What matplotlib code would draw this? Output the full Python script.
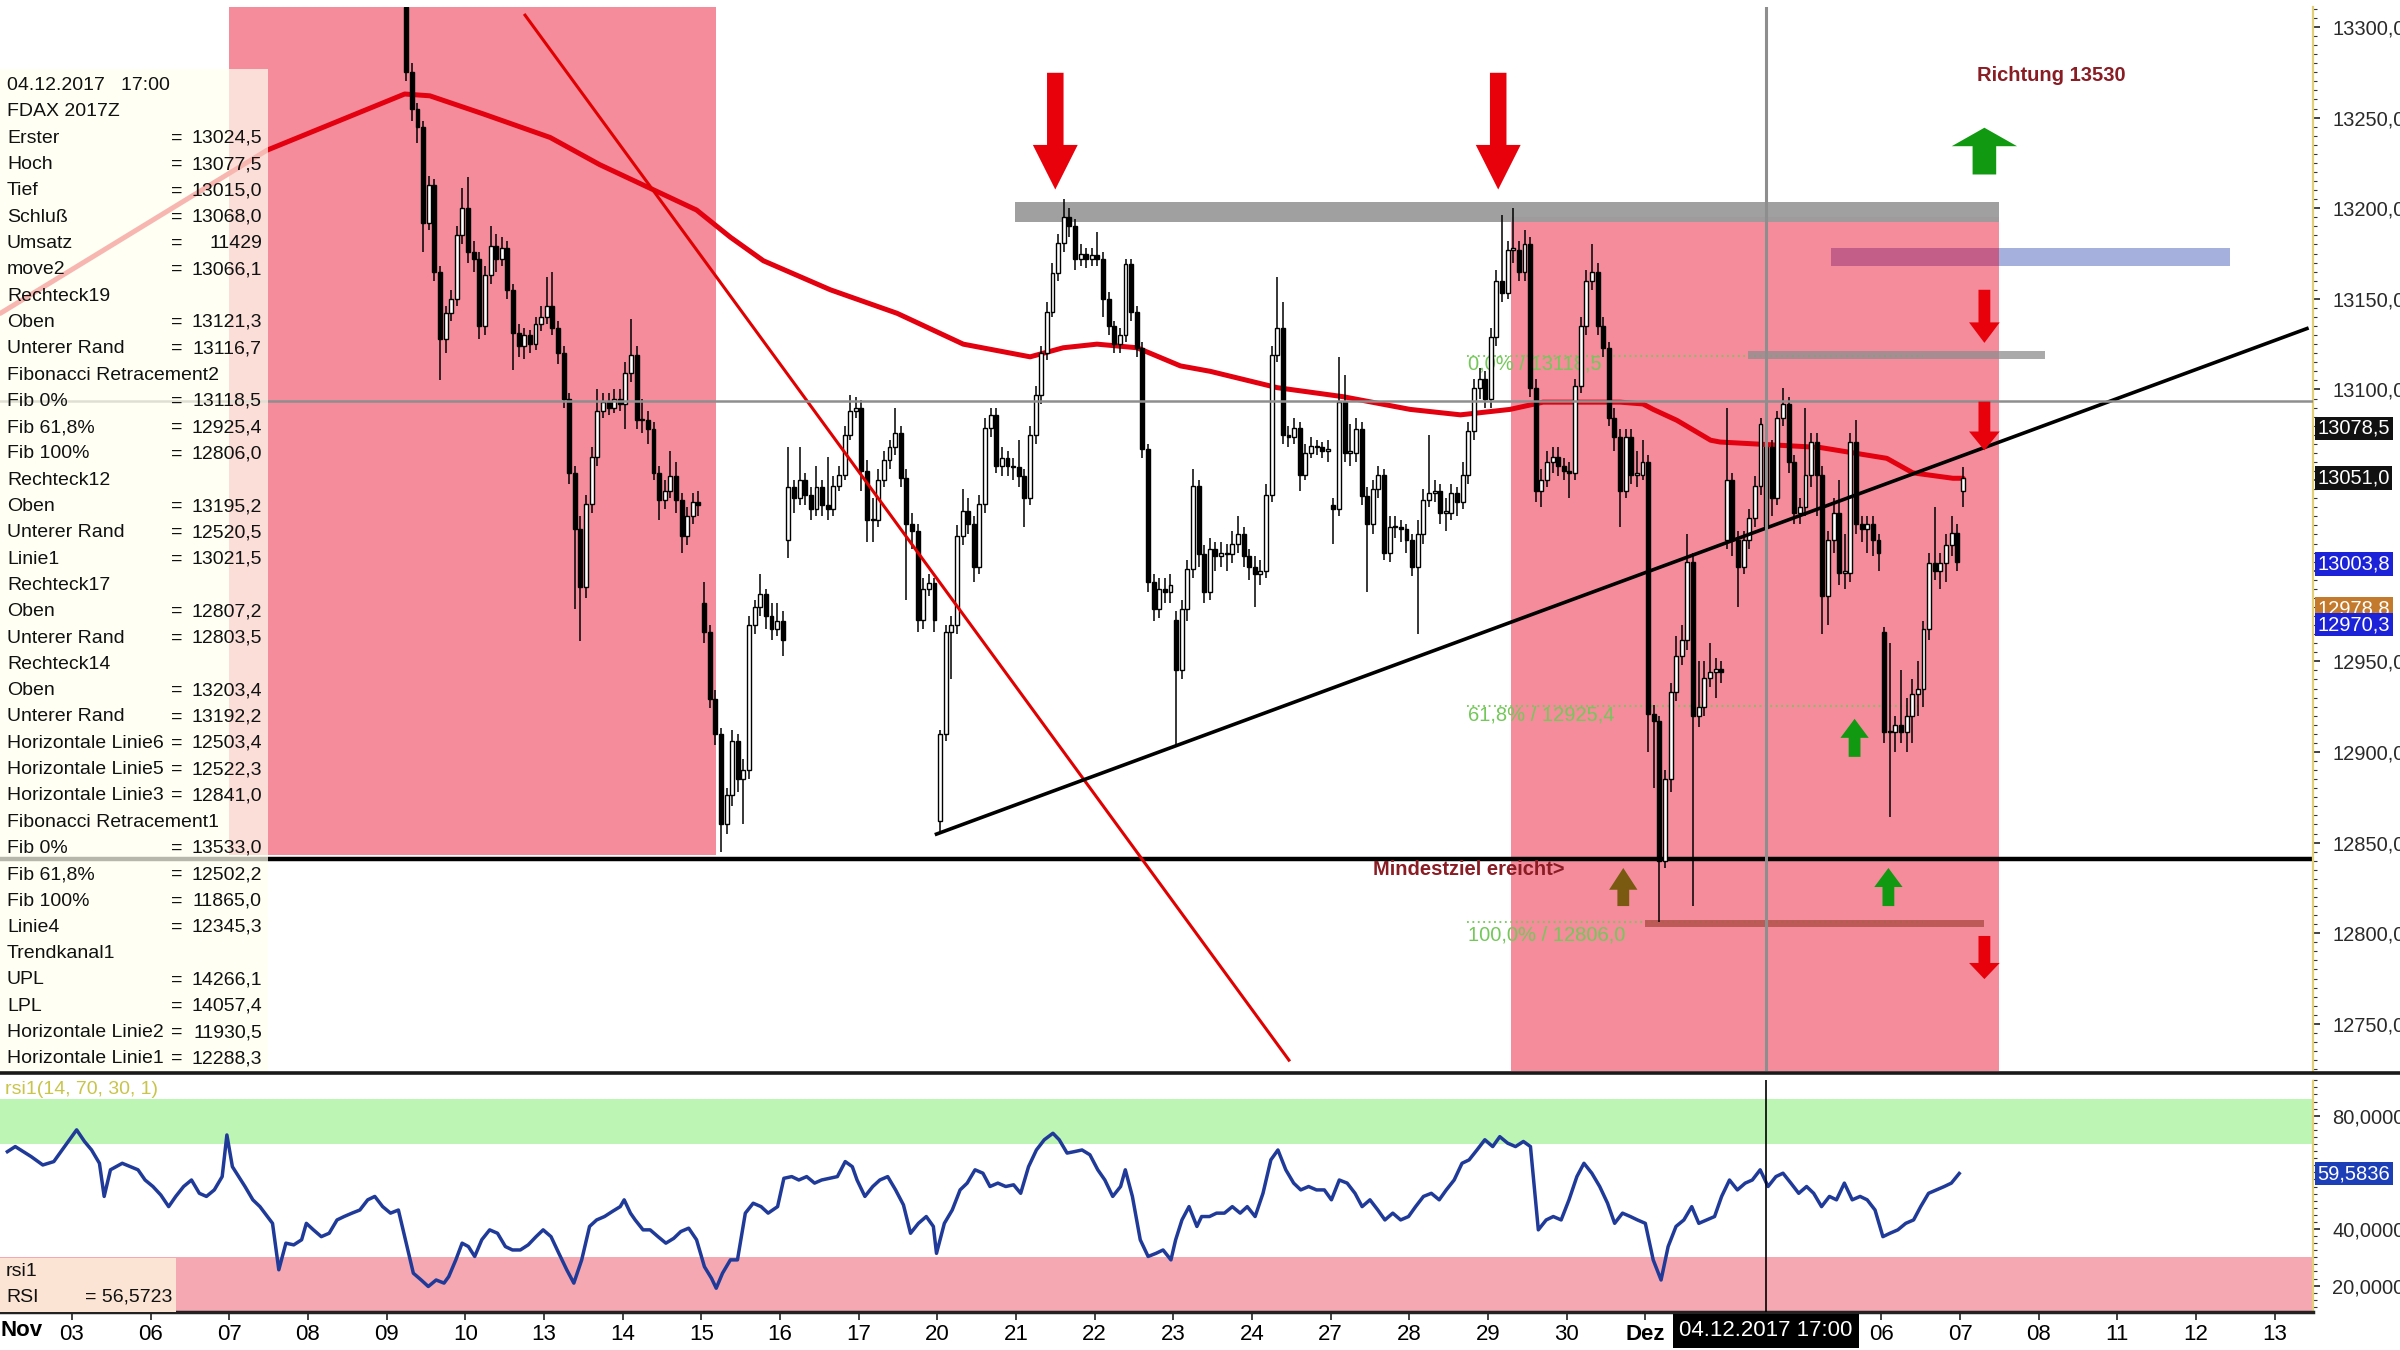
import numpy as np
import matplotlib
matplotlib.use("Agg")
import matplotlib.pyplot as plt
from matplotlib.patches import Rectangle, Polygon
from matplotlib.lines import Line2D
from matplotlib.ticker import MultipleLocator, FixedLocator, FuncFormatter
from matplotlib.transforms import blended_transform_factory
from matplotlib import font_manager

plt.rcParams['font.family'] = ['Liberation Sans', 'DejaVu Sans']

# ---------------- data ----------------
# trading-day index: 1 = Nov 03 ... 21 = Dez 01, 22 = Dez 04 ... 29 = Dez 13
first_day = 5          # Nov 09
first_slot = 3
bars_per_day = 14

closes = [
    13275, 13255, 13245, 13192, 13213, 13165, 13128, 13142, 13150, 13185,
    13200, 13176, 13172, 13135, 13163, 13179, 13172, 13178, 13155, 13131,
    13124, 13130, 13125, 13136, 13140, 13146, 13134, 13120, 13095, 13054,
    13023, 12991, 13037, 13063, 13088, 13093, 13090, 13095, 13092, 13109,
    13119, 13083, 13083, 13078, 13054, 13039, 13044, 13052, 13039, 13019,
    13030, 13038, 13036, 12966, 12929, 12910, 12860, 12876, 12906, 12885,
    12890, 12970, 12980, 12987, 12975, 12968, 12972, 12962, 13046, 13040,
    13050, 13042, 13034, 13046, 13036, 13034, 13047, 13053, 13075, 13088,
    13090, 13055, 13028, 13028, 13050, 13061, 13068, 13076, 13051, 13026,
    13022, 12973, 12990, 12993, 12973, 12910, 12966, 12970, 13019, 13033,
    13026, 13002, 13037, 13079, 13086, 13058, 13062, 13058, 13057, 13052,
    13040, 13075, 13097, 13120, 13143, 13164, 13181, 13195, 13190, 13172,
    13175, 13172, 13174, 13172, 13150, 13135, 13125, 13130, 13169, 13143,
    13123, 13067, 12994, 12979, 12990, 12988, 12992, 12945, 12979, 13001,
    13047, 13009, 12988, 13012, 13008, 13010, 13009, 13015, 13020, 13008,
    13002, 12998, 13000, 13042, 13119, 13134, 13075, 13074, 13079, 13053,
    13065, 13069, 13068, 13066, 13067, 13034, 13093, 13065, 13065, 13078,
    13041, 13026, 13045, 13053, 13010, 13024, 13024, 13023, 13017, 13002,
    13020, 13039, 13043, 13044, 13032, 13032, 13043, 13038, 13053, 13077,
    13101, 13106, 13095, 13129, 13160, 13153, 13177, 13177, 13165, 13180,
    13101, 13044, 13050, 13060, 13063, 13058, 13055, 13054, 13102, 13135,
    13160, 13165, 13135, 13123, 13084, 13074, 13044, 13074, 13053, 13053,
    13060, 12921, 12917, 12840, 12885, 12933, 12953, 12962, 13005, 12920,
    12925, 12941, 12944, 12946, 12944, 13050, 13017, 13002, 13017, 13029,
    13047, 13081, 13068, 13040, 13084, 13092, 13060, 13032, 13035, 13053,
    13071, 13053, 12986, 13017, 13032, 12999, 12999, 13071, 13026, 13023,
    13026, 13017, 13010, 12911, 12911, 12915, 12911, 12920, 12932, 12935,
    12968, 13004, 13000, 13004, 13014, 13021, 13005, 13051,
]
highs = [
    13318, 13280, 13258, 13248, 13218, 13216, 13168, 13146, 13155, 13190,
    13211, 13217, 13182, 13176, 13168, 13190, 13186, 13184, 13182, 13158,
    13136, 13134, 13133, 13140, 13146, 13162, 13165, 13138, 13124, 13098,
    13058, 13030, 13042, 13068, 13100, 13098, 13098, 13100, 13100, 13115,
    13139, 13124, 13095, 13088, 13082, 13058, 13050, 13066, 13060, 13043,
    13035, 13043, 13044, 12994, 12970, 12934, 12913, 12880, 12912, 12910,
    12896, 12975, 12984, 12998, 12990, 12982, 12982, 12978, 13068, 13050,
    13068, 13054, 13046, 13058, 13050, 13063, 13052, 13058, 13080, 13097,
    13096, 13094, 13061, 13040, 13056, 13066, 13072, 13090, 13080, 13056,
    13032, 13026, 12996, 12998, 12996, 12912, 12970, 12975, 13025, 13045,
    13040, 13030, 13042, 13084, 13090, 13090, 13068, 13066, 13062, 13072,
    13056, 13080, 13102, 13124, 13148, 13170, 13186, 13205, 13200, 13194,
    13180, 13178, 13178, 13187, 13176, 13154, 13138, 13134, 13172, 13172,
    13146, 13126, 13070, 12998, 12996, 12996, 12998, 12978, 12984, 13006,
    13056, 13050, 13014, 13018, 13016, 13016, 13015, 13022, 13030, 13024,
    13012, 13008, 13006, 13048, 13124, 13162, 13148, 13080, 13084, 13082,
    13070, 13074, 13072, 13071, 13072, 13040, 13118, 13108, 13081, 13084,
    13082, 13046, 13050, 13058, 13056, 13030, 13030, 13028, 13026, 13020,
    13028, 13045, 13075, 13050, 13048, 13040, 13048, 13046, 13060, 13082,
    13106, 13112, 13110, 13134, 13166, 13196, 13182, 13200, 13182, 13188,
    13184, 13106, 13056, 13066, 13068, 13068, 13062, 13060, 13106, 13140,
    13166, 13180, 13170, 13140, 13126, 13090, 13078, 13078, 13078, 13066,
    13072, 13064, 12926, 12920, 12890, 12938, 12964, 12970, 13020, 13010,
    12950, 12950, 12960, 12952, 12950, 13090, 13054, 13022, 13022, 13034,
    13052, 13084, 13077.5, 13072, 13088, 13101, 13096, 13064, 13040, 13090,
    13076, 13076, 13058, 13022, 13040, 13050, 13020, 13076, 13083, 13030,
    13030, 13030, 13020, 12969, 12960, 12920, 12945, 12930, 12940, 12950,
    12972, 13010, 13035, 13010, 13020, 13030, 13026, 13057,
]
lows = [
    13270, 13248, 13236, 13176, 13188, 13160, 13105, 13120, 13138, 13146,
    13180, 13170, 13165, 13128, 13130, 13158, 13165, 13168, 13150, 13111,
    13118, 13117, 13120, 13122, 13132, 13136, 13130, 13114, 13090, 13048,
    12979, 12961, 12985, 13032, 13058, 13084, 13086, 13087, 13088, 13078,
    13104, 13078, 13076, 13070, 13050, 13028, 13034, 13040, 13032, 13010,
    13014, 13026, 13030, 12960, 12924, 12904, 12845, 12855, 12870, 12878,
    12860, 12885, 12965, 12975, 12968, 12962, 12964, 12953, 13007, 13032,
    13036, 13036, 13028, 13030, 13030, 13028, 13030, 13044, 13050, 13072,
    13084, 13044, 13016, 13016, 13024, 13046, 13056, 13064, 13046, 12984,
    13012, 12966, 12968, 12986, 12966, 12855, 12906, 12940, 12965, 13014,
    13020, 12994, 12998, 13032, 13074, 13054, 13052, 13052, 13050, 13046,
    13024, 13036, 13070, 13092, 13116, 13140, 13160, 13176, 13184, 13166,
    13168, 13167, 13168, 13168, 13140, 13130, 13120, 13120, 13126, 13138,
    13118, 13062, 12988, 12972, 12974, 12982, 12982, 12903, 12940, 12972,
    12996, 13002, 12982, 12984, 13000, 13002, 13000, 13004, 13010, 13002,
    12995, 12980, 12992, 12996, 13038, 13115, 13070, 13068, 13070, 13044,
    13050, 13062, 13064, 13062, 13060, 13015, 13030, 13060, 13058, 13060,
    13036, 12988, 13020, 13040, 13006, 13005, 13018, 13016, 13010, 12997,
    12965, 13015, 13035, 13038, 13026, 13022, 13028, 13030, 13034, 13048,
    13072, 13095, 13090, 13090, 13124, 13148, 13150, 13170, 13160, 13160,
    13096, 13038, 13035, 13046, 13054, 13052, 13050, 13040, 13050, 13098,
    13130, 13155, 13130, 13118, 13080, 13066, 13024, 13040, 13048, 13046,
    13050, 12900, 12880, 12806, 12836, 12878, 12928, 12948, 12956, 12815,
    12914, 12920, 12936, 12930, 12938, 13012, 13008, 12980, 12998, 13012,
    13024, 13042, 13015, 13030, 13036, 13080, 13054, 13026, 13026, 13030,
    13046, 13030, 12965, 12970, 13010, 12992, 12990, 12994, 13020, 13016,
    13010, 13008, 13000, 12905, 12864, 12900, 12905, 12900, 12905, 12920,
    12925, 12962, 12995, 12990, 12994, 13008, 13000, 13035,
]
# session opens that gap away from the previous close
gap_opens = {0: 13311, 53: 12982, 68: 13017, 95: 12862, 137: 12973,
             165: 13036, 235: 13017, 242: 13024.5, 263: 12966, 277: 13044}
cross_bar = 242   # 04.12.2017 17:00

ma_days = [0.09, 3.48, 5.23, 5.55, 6.23, 7.08, 7.71, 8.35, 8.94, 9.37, 9.79,
           10.64, 11.49, 12.33, 13.18, 13.6, 14.03, 14.54, 15.09, 15.47, 16.32,
           17.16, 18.01, 18.65, 19.28, 19.7, 20.68, 20.97, 21.1, 21.4, 21.83,
           21.95, 22.8, 23.22, 24.07, 24.4, 24.91, 25.04]
ma_vals = [13142, 13232, 13263, 13262, 13252, 13239, 13224, 13211, 13199, 13184, 13171,
           13155, 13142, 13125, 13118, 13123, 13125, 13123, 13113, 13110, 13101,
           13096, 13089, 13086, 13089, 13093, 13093, 13092, 13089, 13083, 13072,
           13071, 13069, 13068, 13062, 13054, 13051, 13051]

rsi_points = [
    (0.18, 67.3), (0.28, 69.1), (0.48, 65.6), (0.63, 62.6), (0.77, 63.8), (0.86, 67.3),
    (1.06, 75.0), (1.16, 70.9), (1.25, 67.9), (1.35, 63.2), (1.41, 51.5), (1.49, 60.9),
    (1.64, 63.2), (1.84, 60.9), (1.93, 57.3), (2.03, 55.0), (2.13, 52.0), (2.23, 47.9),
    (2.32, 51.5), (2.42, 55.0), (2.52, 57.3), (2.62, 52.6), (2.71, 51.5), (2.81, 53.8),
    (2.91, 58.5), (2.97, 73.2), (3.04, 62.0), (3.20, 55.0), (3.30, 50.3), (3.39, 47.9),
    (3.55, 42.0), (3.63, 25.6), (3.72, 35.0), (3.82, 34.4), (3.92, 36.2), (3.98, 42.0),
    (4.07, 39.7), (4.17, 37.3), (4.27, 38.5), (4.37, 43.2), (4.46, 44.4), (4.56, 45.6),
    (4.66, 46.7), (4.76, 50.3), (4.85, 51.5), (4.95, 47.9), (5.05, 45.6), (5.15, 46.7),
    (5.24, 36.2), (5.34, 24.4), (5.44, 22.0), (5.53, 19.7), (5.63, 22.0), (5.73, 20.9),
    (5.79, 23.2), (5.88, 29.1), (5.96, 35.0), (6.04, 33.8), (6.12, 30.3), (6.21, 36.2),
    (6.31, 39.7), (6.41, 38.5), (6.51, 33.8), (6.60, 32.6), (6.70, 32.6), (6.80, 34.4),
    (6.90, 37.3), (6.99, 39.7), (7.09, 37.3), (7.19, 31.4), (7.29, 25.6), (7.38, 20.9),
    (7.48, 29.1), (7.58, 40.9), (7.67, 43.2), (7.77, 44.4), (7.87, 46.2), (7.97, 47.9),
    (8.02, 50.3), (8.10, 45.6), (8.16, 43.2), (8.26, 39.7), (8.35, 39.7), (8.45, 37.3),
    (8.55, 35.0), (8.65, 36.7), (8.74, 39.1), (8.84, 40.3), (8.94, 36.2), (9.04, 26.7),
    (9.13, 22.6), (9.19, 19.1), (9.27, 24.4), (9.37, 29.1), (9.46, 29.1), (9.56, 45.6),
    (9.66, 49.1), (9.76, 47.9), (9.85, 45.6), (9.97, 47.9), (10.05, 57.9), (10.15, 58.5),
    (10.24, 57.3), (10.34, 58.5), (10.44, 56.2), (10.53, 57.3), (10.63, 57.9), (10.73, 58.5),
    (10.83, 63.8), (10.92, 62.0), (10.98, 57.3), (11.08, 51.5), (11.18, 55.0), (11.27, 57.3),
    (11.37, 58.5), (11.47, 53.8), (11.57, 48.5), (11.66, 38.5), (11.76, 42.0), (11.86, 44.4),
    (11.95, 40.9), (11.99, 31.4), (12.09, 42.0), (12.19, 46.7), (12.29, 53.8), (12.38, 56.2),
    (12.48, 60.9), (12.58, 59.7), (12.67, 55.0), (12.77, 56.2), (12.87, 55.0), (12.97, 55.6),
    (13.06, 52.6), (13.16, 62.0), (13.26, 67.9), (13.36, 71.5), (13.47, 73.8), (13.55, 71.5),
    (13.65, 66.8), (13.74, 67.3), (13.84, 67.9), (13.94, 66.2), (14.04, 60.9), (14.13, 57.3),
    (14.23, 51.5), (14.33, 55.0), (14.39, 60.9), (14.48, 51.5), (14.58, 36.2), (14.68, 30.3),
    (14.78, 31.4), (14.87, 32.6), (14.97, 29.1), (15.03, 36.2), (15.11, 43.2), (15.20, 47.9),
    (15.30, 40.9), (15.36, 44.4), (15.46, 44.4), (15.55, 45.6), (15.65, 45.6), (15.75, 47.9),
    (15.85, 45.6), (15.94, 47.9), (16.04, 44.4), (16.14, 52.6), (16.24, 64.4), (16.33, 67.9),
    (16.43, 60.9), (16.53, 56.2), (16.62, 53.8), (16.72, 55.0), (16.82, 53.8), (16.92, 53.8),
    (17.01, 50.3), (17.11, 57.3), (17.21, 56.2), (17.31, 52.6), (17.40, 47.9), (17.50, 50.3),
    (17.60, 46.7), (17.69, 43.2), (17.79, 45.6), (17.89, 43.2), (17.99, 44.4), (18.08, 47.9),
    (18.18, 51.5), (18.28, 52.6), (18.38, 50.3), (18.47, 53.8), (18.57, 57.3), (18.67, 63.2),
    (18.76, 64.4), (18.86, 67.9), (18.96, 71.5), (19.06, 69.1), (19.15, 72.6), (19.25, 70.3),
    (19.35, 69.1), (19.45, 70.9), (19.54, 69.1), (19.64, 39.7), (19.74, 43.2), (19.83, 44.4),
    (19.93, 43.2), (20.03, 50.3), (20.13, 58.5), (20.22, 63.2), (20.32, 59.7), (20.42, 55.0),
    (20.52, 49.1), (20.61, 42.0), (20.71, 45.6), (20.81, 44.4), (20.90, 43.2), (21.00, 42.0),
    (21.10, 29.1), (21.20, 22.0), (21.29, 33.8), (21.39, 40.9), (21.49, 43.2), (21.59, 47.9),
    (21.68, 42.0), (21.78, 43.2), (21.88, 44.4), (21.97, 51.5), (22.07, 57.3), (22.17, 53.8),
    (22.27, 56.2), (22.36, 57.3), (22.46, 60.9), (22.56, 55.0), (22.66, 58.5), (22.75, 59.7),
    (22.85, 56.2), (22.95, 52.6), (23.05, 55.0), (23.14, 52.6), (23.24, 47.9), (23.34, 51.5),
    (23.43, 50.3), (23.53, 56.2), (23.63, 50.3), (23.73, 51.5), (23.82, 50.3), (23.92, 46.7),
    (24.02, 37.3), (24.11, 38.5), (24.21, 39.7), (24.31, 42.0), (24.41, 43.2), (24.50, 47.9),
    (24.60, 52.6), (24.70, 53.8), (24.80, 55.0), (24.89, 56.2), (24.99, 59.6),
]

date_ticks = list(range(1, 30))
date_labels = ["03", "06", "07", "08", "09", "10", "13", "14", "15", "16", "17", "20",
               "21", "22", "23", "24", "27", "28", "29", "30", "Dez", "04", "05", "06",
               "07", "08", "11", "12", "13"]

info_labels = ["04.12.2017   17:00", "FDAX 2017Z", "Erster", "Hoch", "Tief", "Schluß",
               "Umsatz", "move2", "Rechteck19", "Oben", "Unterer Rand",
               "Fibonacci Retracement2", "Fib 0%", "Fib 61,8%", "Fib 100%", "Rechteck12",
               "Oben", "Unterer Rand", "Linie1", "Rechteck17", "Oben", "Unterer Rand",
               "Rechteck14", "Oben", "Unterer Rand", "Horizontale Linie6",
               "Horizontale Linie5", "Horizontale Linie3", "Fibonacci Retracement1",
               "Fib 0%", "Fib 61,8%", "Fib 100%", "Linie4", "Trendkanal1", "UPL", "LPL",
               "Horizontale Linie2", "Horizontale Linie1"]
info_values = ["", "", "13024,5", "13077,5", "13015,0", "13068,0", "11429", "13066,1", "",
               "13121,3", "13116,7", "", "13118,5", "12925,4", "12806,0", "", "13195,2",
               "12520,5", "13021,5", "", "12807,2", "12803,5", "", "13203,4", "13192,2",
               "12503,4", "12522,3", "12841,0", "", "13533,0", "12502,2", "11865,0",
               "12345,3", "", "14266,1", "14057,4", "11930,5", "12288,3"]

# drawn objects: (x0, x1, y0, y1) in day index / price
zone_left = (3.0, 9.19, 12843, 13400)
zone_right = (19.29, 25.49, 12520.5, 13195.2)
box_r14 = (12.99, 25.49, 13192.2, 13203.4)
box_blue = (23.36, 28.43, 13168, 13178)
box_r19 = (22.3, 26.08, 13116.7, 13121.3)
box_r17 = (21.0, 25.3, 12803.5, 12807.2)
hline3 = 12841.0
cross_price = 13093.8
trend_line = ([11.99, 29.41], [12854.7, 13133.6])
red_line = ([6.76, 16.47], [13306.5, 12730])
fib_levels = [13118.5, 12925.4, 12806.0]
fib_texts = ["0,0% / 13118,5", "61,8% / 12925,4", "100,0% / 12806,0"]
fib_text_y = [13114, 12920.6, 12799]
fib_span = (18.73, 24.53)

# arrows: x, tail, head base, tip, head width, shaft width, colour
arrows = [
    (13.50, 13274.7, 13234.9, 13210.3, 0.57, 0.21, '#E8000B'),
    (19.13, 13274.7, 13234.9, 13210.3, 0.57, 0.21, '#E8000B'),
    (25.31, 13218.6, 13234.2, 13244.4, 0.83, 0.30, '#119A11'),
    (25.31, 13155.0, 13137.0, 13125.7, 0.39, 0.15, '#E8000B'),
    (25.31, 13093.3, 13076.8, 13066.4, 0.39, 0.15, '#E8000B'),
    (25.31, 12798.5, 12783.6, 12774.7, 0.39, 0.15, '#E8000B'),
    (23.66, 12897.3, 12907.8, 12918.3, 0.36, 0.15, '#119A11'),
    (24.09, 12815.0, 12825.5, 12836.0, 0.36, 0.15, '#119A11'),
    (20.72, 12815.0, 12824.0, 12836.0, 0.36, 0.15, '#7A5A10'),
]

marker_prices = [13078.5, 13051.0, 13003.8, 12978.8, 12970.3]
marker_colors = ['#111111', '#111111', '#1C22D8', '#C47A2C', '#1C22D8']
rsi_last = 59.5836

# ---------------- figure ----------------
W, H = 2400, 1350
fig = plt.figure(figsize=(24, 13.5), dpi=100)


def fx(p):
    return p / W


def fy(p):
    return 1 - p / H


xlim = (0.086, 29.487)
ax = fig.add_axes([0, fy(1071), fx(2313), (1071 - 7) / H])
ax.set_xlim(*xlim)
ax.set_ylim(12724, 13311)
ax.set_facecolor('white')


def box(b, **kw):
    ax.add_patch(Rectangle((b[0], b[2]), b[1] - b[0], b[3] - b[2], edgecolor='none', **kw))


box(zone_left, facecolor='#F48C9B', zorder=1)
box(zone_right, facecolor='#F48C9B', zorder=1)

for lvl in fib_levels:
    ax.plot(fib_span, [lvl, lvl], color='#74C85A', lw=1.3, ls=(0, (1, 2)), zorder=1.5)
for t, yv in zip(fib_texts, fib_text_y):
    ax.text(fib_span[0] + 0.02, yv, t, color='#74C85A', fontsize=14.5, va='center', zorder=1.6)

box(box_r14, facecolor='#9B9B9B', alpha=0.95, zorder=2)
box(box_blue, facecolor='#A5B0DD', zorder=2)
ov = (box_blue[0], min(box_blue[1], zone_right[1]), box_blue[2], box_blue[3])
box(ov, facecolor='#C35E88', zorder=2.05)
box(box_r19, facecolor='#8E8E8E', alpha=0.75, zorder=2)
box(box_r17, facecolor='#B4504C', alpha=0.85, zorder=2)

ax.axhline(hline3, color='black', lw=3.2, zorder=2.5)
ax.plot(ma_days, ma_vals, color='#E3000F', lw=3.6, zorder=2.8, solid_capstyle='round')

# candles
c = np.array(closes, float)
o = np.r_[c[0], c[:-1]]
for k, v in gap_opens.items():
    o[k] = v
bar_x = first_day + (np.arange(len(c)) + first_slot + 0.5) / bars_per_day
up = c >= o
ax.vlines(bar_x, lows, highs, color='black', lw=1.1, zorder=3)
ax.bar(bar_x, np.maximum(np.abs(c - o), 0.8), bottom=np.minimum(o, c), width=0.05,
       color=['white' if u else 'black' for u in up], edgecolor='black',
       linewidth=1.0, zorder=3.1)

ax.plot(*red_line, color='#E00000', lw=2.2, zorder=3.5)
ax.plot(*trend_line, color='black', lw=2.6, zorder=3.6)

cross_x = bar_x[cross_bar]
ax.axhline(cross_price, color='#8E8E8E', lw=1.8, zorder=4)
ax.axvline(cross_x, color='#8E8E8E', lw=2.2, zorder=4)

for x, tail, base, tip, hw, sw, col in arrows:
    pts = [(x - sw / 2, tail), (x + sw / 2, tail), (x + sw / 2, base), (x + hw / 2, base),
           (x, tip), (x - hw / 2, base), (x - sw / 2, base)]
    ax.add_patch(Polygon(pts, closed=True, facecolor=col, edgecolor='none', zorder=6))

ax.text(26.16, 13273, "Richtung 13530", color='#8A1C24', fontsize=14.5,
        fontweight='bold', ha='center', va='center', zorder=6)
ax.text(17.54, 12835.3, "Mindestziel ereicht>", color='#8A1C24', fontsize=14.5,
        fontweight='bold', ha='left', va='center', zorder=6)


# price axis on the right; scale labels hidden behind a value box are left out
def price_fmt(v, pos):
    if any(abs(v - p) < 12 for p in marker_prices):
        return ""
    return f"{v:.1f}".replace('.', ',')


ax.yaxis.set_major_locator(MultipleLocator(50))
ax.yaxis.set_minor_locator(MultipleLocator(5))
ax.yaxis.set_major_formatter(FuncFormatter(price_fmt))
ax.tick_params(axis='y', which='both', left=False, right=True, labelleft=False,
               labelright=True, direction='out', color='#333333')
ax.tick_params(axis='y', which='major', length=5, width=1.3, pad=9, labelsize=14.5,
               labelcolor='#2a2a2a')
ax.tick_params(axis='y', which='minor', length=3, width=0.8)
ax.set_xticks([])
for s in ['top', 'left', 'bottom']:
    ax.spines[s].set_visible(False)
ax.spines['right'].set_color('#E2CF78')
ax.spines['right'].set_linestyle((0, (2, 1)))
ax.spines['right'].set_linewidth(1.6)

trans = blended_transform_factory(ax.transAxes, ax.transData)
for p, col in zip(marker_prices, marker_colors):
    ax.text(1.002, p, f"{p:.1f}".replace('.', ','), transform=trans, color='white',
            fontsize=14.5, va='center', ha='left', clip_on=False, zorder=10,
            bbox=dict(boxstyle='square,pad=0.12', fc=col, ec='none'))

# ---------------- RSI panel ----------------
rx = fig.add_axes([0, fy(1312), fx(2313), (1312 - 1080) / H])
rx.set_xlim(*xlim)
rx.set_ylim(10.7, 92.6)
rx.axhspan(70, 86, color='#BDF5B4', zorder=1, lw=0)
rx.axhspan(10.7, 30, color='#F5A8B1', zorder=1, lw=0)
rd, rv = zip(*rsi_points)
rx.plot(rd, rv, color='#1F3A98', lw=2.5, zorder=3)
rx.axvline(cross_x, color='black', lw=1.2, zorder=4)

# the 60 level is covered by the current-value box, so only 20/40/80 carry labels
rx.yaxis.set_major_locator(FixedLocator([20, 40, 80]))
rx.yaxis.set_minor_locator(MultipleLocator(2.5))
rx.yaxis.set_major_formatter(FuncFormatter(lambda v, p: f"{v:.4f}".replace('.', ',')))
rx.tick_params(axis='y', which='both', left=False, right=True, labelleft=False,
               labelright=True, direction='out', color='#333333')
rx.tick_params(axis='y', which='major', length=5, width=1.3, pad=9, labelsize=14.5,
               labelcolor='#2a2a2a')
rx.tick_params(axis='y', which='minor', length=3, width=0.8)
for s in ['top', 'left']:
    rx.spines[s].set_visible(False)
rx.spines['right'].set_color('#E2CF78')
rx.spines['right'].set_linestyle((0, (2, 1)))
rx.spines['right'].set_linewidth(1.6)
rx.spines['bottom'].set_color('#222222')
rx.spines['bottom'].set_linewidth(2.5)

rtrans = blended_transform_factory(rx.transAxes, rx.transData)
rx.text(1.002, rsi_last, f"{rsi_last:.4f}".replace('.', ','), transform=rtrans,
        color='white', fontsize=14.5, va='center', ha='left', clip_on=False, zorder=10,
        bbox=dict(boxstyle='square,pad=0.12', fc='#1C3FB8', ec='none'))

available = {f.name for f in font_manager.fontManager.ttflist}
if 'Liberation Sans Narrow' in available:
    date_family, date_size = 'Liberation Sans Narrow', 19
else:
    date_family, date_size = 'Liberation Sans', 16

rx.set_xticks(date_ticks)
rx.set_xticklabels(date_labels, family=date_family, fontsize=date_size)
rx.tick_params(axis='x', which='major', direction='out', length=6, width=1.3, pad=3,
               color='#333333')
for t, lab in zip(date_ticks, rx.get_xticklabels()):
    if lab.get_text() == 'Dez':
        lab.set_fontweight('bold')
    # day labels sitting under the crosshair date box are hidden, as on screen
    if abs(t - cross_x) < 1.0:
        lab.set_visible(False)

# crosshair date label on the time axis
rx.text(cross_x, fy(1331), info_labels[0].replace('   ', ' '), family=date_family,
        fontsize=date_size, color='white', ha='center', va='center', clip_on=False,
        transform=blended_transform_factory(rx.transData, fig.transFigure), zorder=20,
        bbox=dict(boxstyle='square,pad=0.3', fc='black', ec='none'))
fig.text(fx(1), fy(1331), "Nov", family=date_family, fontsize=date_size,
         fontweight='bold', ha='left', va='center')

# separators
fig.add_artist(Line2D([0, 1], [fy(1072.5)] * 2, color='#1a1a1a', lw=2.6,
                      transform=fig.transFigure))

# ---------------- info panels ----------------
fig.add_artist(Rectangle((0, fy(1071)), fx(268), (1071 - 69) / H, transform=fig.transFigure,
                         facecolor='#FFFFF0', alpha=0.72, edgecolor='none', zorder=5))
for j, (lab, val) in enumerate(zip(info_labels, info_values)):
    yy = fy(85.7 + j * 26.3)
    fig.text(fx(7), yy, lab, fontsize=14, va='center', color='#111111', zorder=6)
    if val:
        fig.text(fx(171), yy, "=", fontsize=14, va='center', color='#111111', zorder=6)
        fig.text(fx(262), yy, val, fontsize=14, va='center', ha='right',
                 color='#111111', zorder=6)

fig.text(fx(5), fy(1089), "rsi1(14, 70, 30, 1)", fontsize=14, color='#C9C44A',
         va='center', zorder=6)
fig.add_artist(Rectangle((0, fy(1312)), fx(176), (1312 - 1258) / H, transform=fig.transFigure,
                         facecolor='#FCE4D4', edgecolor='none', zorder=5))
fig.text(fx(6), fy(1272), "rsi1", fontsize=14, va='center', color='#111111', zorder=6)
fig.text(fx(6), fy(1297), "RSI", fontsize=14, va='center', color='#111111', zorder=6)
fig.text(fx(172), fy(1297), "= 56,5723", fontsize=14, va='center', ha='right',
         color='#111111', zorder=6)

fig.savefig("out.png", dpi=100, facecolor='white')
